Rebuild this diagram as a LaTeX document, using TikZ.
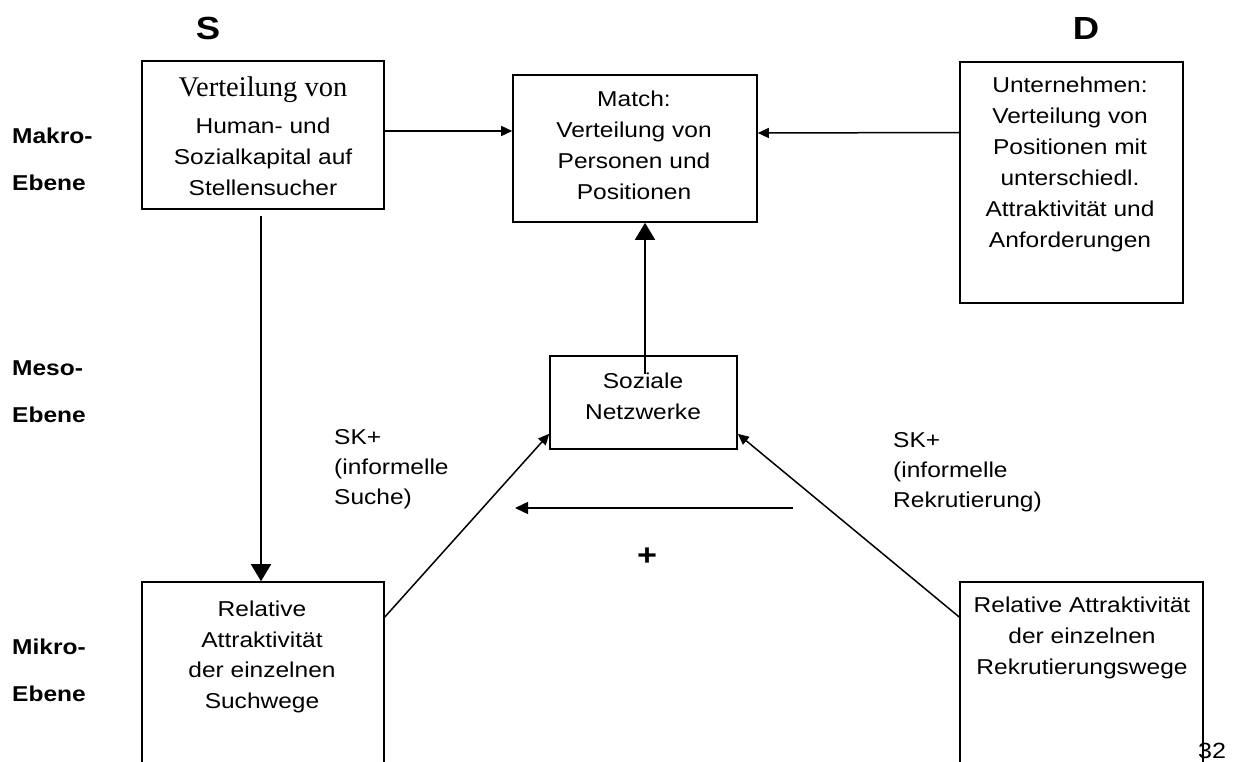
\documentclass[tikz,border=0pt]{standalone}
\usepackage{fontspec}
\setmainfont{Liberation Sans}[FakeStretch=1.14]
\newfontfamily\serifx{Liberation Serif}
\usetikzlibrary{arrows.meta}
\begin{document}
\begin{tikzpicture}[x=1pt,y=-1pt,
  box/.style={draw,line width=1.6pt,rectangle,inner sep=0pt},
  txt/.style={inner sep=0pt,align=center,font=\fontsize{21.5}{31}\selectfont},
  lbl/.style={inner sep=0pt,align=left,font=\fontsize{21.5}{30}\selectfont},
  lvl/.style={inner sep=0pt,align=left,font=\fontsize{21.5}{47}\selectfont\bfseries},
  side/.style={inner sep=0pt,font=\fontsize{32}{36}\selectfont\bfseries},
  conn/.style={line width=1.5pt},
  arr/.style={conn,-{Triangle[length=11pt,width=10pt]}},
  bigarr/.style={conn,-{Triangle[length=17pt,width=20pt]}}]
\useasboundingbox (0,0) rectangle (1233,762);
\clip (0,0) rectangle (1233,762);
% boxes
\node[box,minimum width=242pt,minimum height=148pt] (sbox) at (263,135) {};
\node[box,minimum width=244pt,minimum height=147pt] (match) at (635,148.5) {};
\node[box,minimum width=223pt,minimum height=241pt] (dbox) at (1071.5,182.5) {};
\node[box,minimum width=187pt,minimum height=93pt] (soz) at (643.5,402.5) {};
\node[box,minimum width=242pt,minimum height=218pt] (lrel) at (263,691) {};
\node[box,minimum width=243pt,minimum height=218pt] (rrel) at (1081.5,691) {};
% box texts
\node[inner sep=0pt,anchor=base,font=\serifx\fontsize{28.5}{32}\selectfont] (sboxa) at (263,97) {Verteilung von};
\node[txt,anchor=north] (sboxb) at (263,117.5) {Human- und\\Sozialkapital auf\\Stellensucher};
\node[txt,anchor=north] (matcht) at (634,91) {Match:\\Verteilung von\\Personen und\\Positionen};
\node[txt,anchor=north] (dboxt) at (1070,77) {Unternehmen:\\Verteilung von\\Positionen mit\\unterschiedl.\\Attraktivität und\\Anforderungen};
\node[txt,anchor=north] (sozt) at (643,373) {Soziale\\Netzwerke};
\node[txt,anchor=north,font=\fontsize{21.5}{30.5}\selectfont] (lrelt) at (262,601) {Relative\\Attraktivität\\der einzelnen\\Suchwege};
\node[txt,anchor=north] (rrelt) at (1082,597) {Relative Attraktivität\\der einzelnen\\Rekrutierungswege};
% side labels
\node[side,anchor=base] (slab) at (208,40) {S};
\node[side,anchor=base] (dlab) at (1086,40) {D};
\node[lvl,anchor=north west] (makro) at (12,127.5) {Makro-\\Ebene};
\node[lvl,anchor=north west] (meso) at (12,361) {Meso-\\Ebene};
\node[lvl,anchor=north west] (mikro) at (12,639) {Mikro-\\Ebene};
% connector labels
\node[lbl,anchor=north west] (skl) at (334,429) {SK+\\(informelle\\Suche)};
\node[lbl,anchor=north west] (skr) at (893,432) {SK+\\(informelle\\Rekrutierung)};
\node[inner sep=0pt,font=\fontsize{30}{34}\selectfont\bfseries] (plus) at (647,557) {+};
\node[inner sep=0pt,anchor=base west,font=\fontsize{22}{26}\selectfont] (pnum) at (1198,758) {32};
% connectors
\draw[arr] ([yshift=4pt]sbox.east) -- ([yshift=17.5pt]match.west);
\draw[arr] ([yshift=50pt]dbox.west) -- ([yshift=15.5pt]match.east);
\draw[bigarr] ([xshift=1.5pt,yshift=-19pt]soz.north) -- ([xshift=10pt]match.south);
\draw[bigarr] ([xshift=-2pt,yshift=-6pt]sbox.south) -- ([xshift=-2pt]lrel.north);
\draw[arr] ([yshift=74pt]lrel.east) -- ([yshift=16pt]soz.south west);
\draw[arr] ([yshift=74pt]rrel.west) -- ([yshift=16pt]soz.south east);
\coordinate (hstart) at (793,508);
\coordinate (hend) at (515,508);
\draw[conn,-{Triangle[length=13pt,width=12pt]}] (hstart) -- (hend);
\end{tikzpicture}
\end{document}
